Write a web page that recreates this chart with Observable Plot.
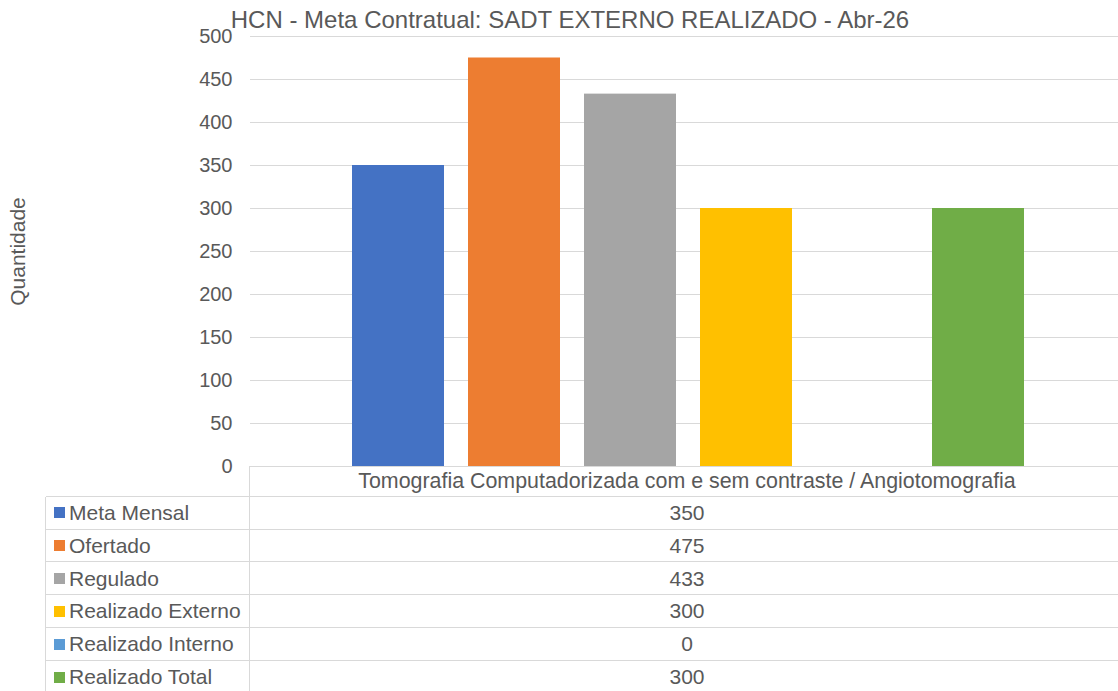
<!DOCTYPE html>
<html>
<head>
<meta charset="utf-8">
<script src="https://cdn.jsdelivr.net/npm/d3@7"></script>
<script src="https://cdn.jsdelivr.net/npm/@observablehq/plot@0.6"></script>
<style>
  html, body { margin: 0; padding: 0; background: #fff; }
  #wrap { position: relative; width: 1118px; height: 691px; overflow: hidden;
          font-family: "Liberation Sans", Arial, sans-serif; color: #595959; }
  #title { position: absolute; left: 0; top: 8px; width: 1140px; text-align: center;
           font-size: 24px; line-height: 24px; white-space: nowrap; }
  #chart { position: absolute; left: 0; top: 0; }
  .hl { position: absolute; height: 0; border-top: 1.5px solid #d9d9d9; }
  .vl { position: absolute; width: 0; border-left: 1.5px solid #d9d9d9; }
  .cell { position: absolute; display: flex; align-items: center; font-size: 21px; white-space: nowrap; }
  .sw { display: inline-block; width: 11px; height: 11px; margin-right: 4px; }
</style>
</head>
<body>
<div id="wrap">
  <div id="chart"></div>
  <div id="title"></div>
</div>
<script>
const titleText = "HCN - Meta Contratual: SADT EXTERNO REALIZADO - Abr-26";
const categories = ["Tomografia Computadorizada com e sem contraste / Angiotomografia"];
const series = ["Meta Mensal", "Ofertado", "Regulado", "Realizado Externo", "Realizado Interno", "Realizado Total"];
const values = [350, 475, 433, 300, 0, 300];
const colors = ["#4472C4", "#ED7D31", "#A5A5A5", "#FFC000", "#5B9BD5", "#70AD47"];
const yTicks = [0, 50, 100, 150, 200, 250, 300, 350, 400, 450, 500];
const yLabel = "Quantidade";

const data = series.map((s, i) => ({ category: categories[0], series: s, value: values[i] }));

document.getElementById("title").textContent = titleText;

const chart = Plot.plot({
  width: 1118,
  height: 470,
  marginTop: 36,
  marginBottom: 4,
  marginLeft: 250,
  marginRight: 0,
  style: { fontFamily: '"Liberation Sans", Arial, sans-serif', color: "#595959", background: "transparent", overflow: "visible" },
  x: { domain: series, axis: null, paddingInner: 0.208, paddingOuter: 0.839, align: 0.52 },
  y: { domain: [0, 500], axis: null },
  color: { domain: series, range: colors },
  marks: [
    Plot.ruleY(yTicks, { stroke: "#d9d9d9", strokeWidth: 1 }),
    Plot.barY(data, { x: "series", y: "value", fill: "series" }),
    Plot.axisY({ ticks: yTicks, tickSize: 0, tickPadding: 18, fontSize: 20, fill: "#595959", label: null }),
    Plot.text([yLabel], { frameAnchor: "left", textAnchor: "middle", dx: -232, rotate: -90, fontSize: 21, fill: "#595959" })
  ]
});
document.getElementById("chart").appendChild(chart);

// Data table below the chart
const wrap = document.getElementById("wrap");
function add(cls, style, html) {
  const d = document.createElement("div");
  d.className = cls;
  Object.assign(d.style, style);
  if (html !== undefined) d.innerHTML = html;
  wrap.appendChild(d);
  return d;
}
const tableLeft = 46, colSplit = 250, tableRight = 1124;
const headTop = 466, headBottom = 496.5, rowH = 32.85;
// header
add("cell", { left: colSplit + "px", top: headTop + "px", width: (tableRight - colSplit) + "px", height: (headBottom - headTop) + "px", justifyContent: "center", fontSize: "21.4px" }, categories[0]);
add("vl", { left: (colSplit - 0.75) + "px", top: headTop + "px", height: (691 - headTop) + "px" });
add("vl", { left: (tableLeft - 0.75) + "px", top: headBottom + "px", height: (691 - headBottom) + "px" });
for (let i = 0; i <= series.length; i++) {
  add("hl", { left: tableLeft + "px", top: (headBottom + i * rowH - 0.75) + "px", width: (tableRight - tableLeft) + "px" });
}
series.forEach((s, i) => {
  const top = headBottom + i * rowH;
  add("cell", { left: (tableLeft + 8) + "px", top: top + "px", height: rowH + "px" },
      `<span class="sw" style="background:${colors[i]}"></span>${s}`);
  add("cell", { left: colSplit + "px", top: top + "px", width: (tableRight - colSplit) + "px", height: rowH + "px", justifyContent: "center" }, String(values[i]));
});
</script>
</body>
</html>
